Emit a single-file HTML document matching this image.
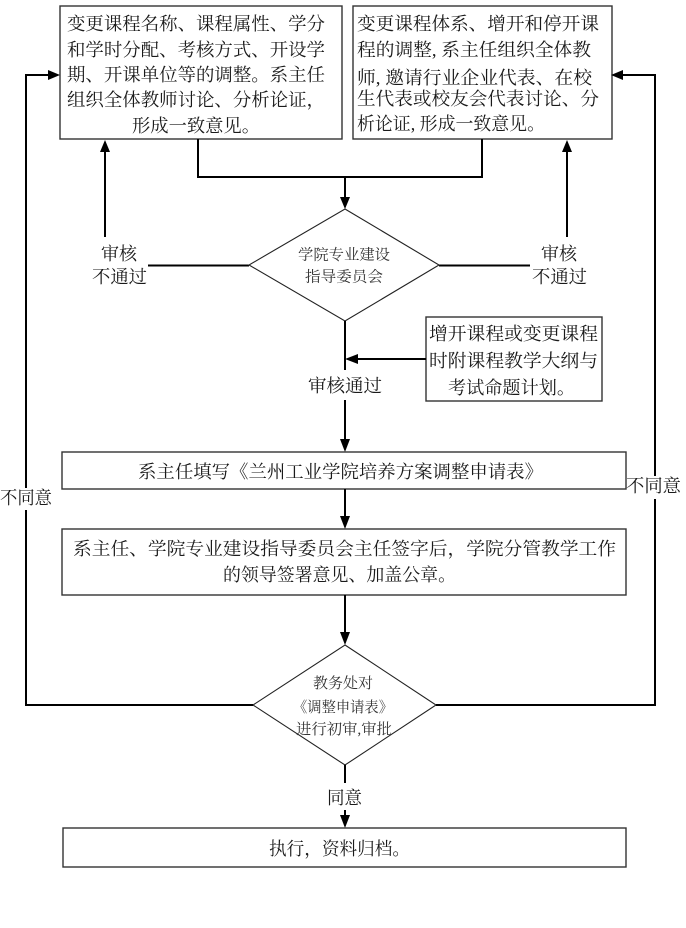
<!DOCTYPE html>
<html>
<head>
<meta charset="utf-8">
<style>
html,body{margin:0;padding:0;background:#fff;}
svg{display:block;}
text{font-family:"Liberation Serif","Noto Serif CJK SC",serif;fill:#1a1a1a;}
.s{font-size:18.4px;}
.d{font-size:15px;fill:#333;}
</style>
</head>
<body>
<svg width="686" height="928" viewBox="0 0 686 928" xmlns="http://www.w3.org/2000/svg">
<rect x="0" y="0" width="686" height="928" fill="#fff"/>

<!-- Top-left box -->
<rect x="60" y="6" width="282" height="133" fill="#fff" stroke="#333" stroke-width="1.4"/>
<text class="s" x="67" y="30" textLength="258" lengthAdjust="spacingAndGlyphs">变更课程名称、课程属性、学分</text>
<text class="s" x="67" y="56" textLength="258" lengthAdjust="spacingAndGlyphs">和学时分配、考核方式、开设学</text>
<text class="s" x="67" y="81" textLength="258" lengthAdjust="spacingAndGlyphs">期、开课单位等的调整。系主任</text>
<text class="s" x="67" y="106" textLength="258" lengthAdjust="spacingAndGlyphs">组织全体教师讨论、分析论证，</text>
<text class="s" x="132" y="132" textLength="128" lengthAdjust="spacingAndGlyphs">形成一致意见。</text>

<!-- Top-right box -->
<rect x="353" y="6" width="259" height="133" fill="#fff" stroke="#333" stroke-width="1.4"/>
<text class="s" x="357" y="30" textLength="242" lengthAdjust="spacingAndGlyphs">变更课程体系、增开和停开课</text>
<text class="s" x="357" y="56" textLength="234" lengthAdjust="spacingAndGlyphs">程的调整, 系主任组织全体教</text>
<text class="s" x="357" y="84" textLength="235" lengthAdjust="spacingAndGlyphs">师, 邀请行业企业代表、在校</text>
<text class="s" x="357" y="105" textLength="242" lengthAdjust="spacingAndGlyphs">生代表或校友会代表讨论、分</text>
<text class="s" x="357" y="130" textLength="188" lengthAdjust="spacingAndGlyphs">析论证, 形成一致意见。</text>

<!-- connectors from top boxes -->
<polyline points="198,139 198,177 482,177 482,139" fill="none" stroke="#000" stroke-width="2"/>
<line x1="345" y1="177" x2="345" y2="198" stroke="#000" stroke-width="2"/>
<polygon points="340,197 350,197 345,209" fill="#000"/>

<!-- up arrows -->
<line x1="105" y1="237" x2="105" y2="150" stroke="#000" stroke-width="2"/>
<polygon points="100,152 110,152 105,140" fill="#000"/>
<line x1="567" y1="237" x2="567" y2="150" stroke="#000" stroke-width="2"/>
<polygon points="562,152 572,152 567,140" fill="#000"/>

<!-- 审核 不通过 labels -->
<text class="s" x="101" y="260" textLength="36" lengthAdjust="spacingAndGlyphs">审核</text>
<text class="s" x="92" y="283" textLength="55" lengthAdjust="spacingAndGlyphs">不通过</text>
<text class="s" x="541" y="260" textLength="36" lengthAdjust="spacingAndGlyphs">审核</text>
<text class="s" x="532" y="283" textLength="55" lengthAdjust="spacingAndGlyphs">不通过</text>

<line x1="148" y1="265.5" x2="249" y2="265.5" stroke="#000" stroke-width="2"/>
<line x1="439" y1="265.5" x2="530" y2="265.5" stroke="#000" stroke-width="2"/>

<!-- Diamond 1 -->
<polygon points="345,209 439,265 345,321 249,265" fill="#fff" stroke="#222" stroke-width="1.1"/>
<text class="d" x="298" y="259.5" textLength="92" lengthAdjust="spacingAndGlyphs">学院专业建设</text>
<text class="d" x="305" y="281.5" textLength="78" lengthAdjust="spacingAndGlyphs">指导委员会</text>

<!-- below diamond 1 -->
<line x1="345" y1="321" x2="345" y2="370" stroke="#000" stroke-width="2"/>
<text class="s" x="308" y="392" textLength="74" lengthAdjust="spacingAndGlyphs">审核通过</text>
<line x1="345" y1="400" x2="345" y2="441" stroke="#000" stroke-width="2"/>
<polygon points="340,439 350,439 345,452" fill="#000"/>

<!-- side box -->
<rect x="426" y="317" width="176" height="84" fill="#fff" stroke="#333" stroke-width="1.4"/>
<text class="s" x="429" y="340" textLength="169" lengthAdjust="spacingAndGlyphs">增开课程或变更课程</text>
<text class="s" x="429" y="367" textLength="169" lengthAdjust="spacingAndGlyphs">时附课程教学大纲与</text>
<text class="s" x="448" y="394" textLength="127" lengthAdjust="spacingAndGlyphs">考试命题计划。</text>
<line x1="426" y1="359" x2="356" y2="359" stroke="#000" stroke-width="2"/>
<polygon points="358,354 358,364 345,359" fill="#000"/>

<!-- box: 系主任填写 -->
<rect x="62" y="452" width="564" height="37" fill="#fff" stroke="#333" stroke-width="1.4"/>
<text class="s" x="138" y="478" textLength="405" lengthAdjust="spacingAndGlyphs">系主任填写《兰州工业学院培养方案调整申请表》</text>
<line x1="345" y1="489" x2="345" y2="518" stroke="#000" stroke-width="2"/>
<polygon points="340,516 350,516 345,529" fill="#000"/>

<!-- box: 系主任、学院 -->
<rect x="62" y="529" width="564" height="66" fill="#fff" stroke="#333" stroke-width="1.4"/>
<text class="s" x="73" y="555" textLength="543" lengthAdjust="spacingAndGlyphs">系主任、学院专业建设指导委员会主任签字后，学院分管教学工作</text>
<text class="s" x="223" y="581" textLength="233" lengthAdjust="spacingAndGlyphs">的领导签署意见、加盖公章。</text>
<line x1="345" y1="595" x2="345" y2="634" stroke="#000" stroke-width="2"/>
<polygon points="340,632 350,632 345,645" fill="#000"/>

<!-- Diamond 2 -->
<polygon points="345,645 436,705 345,765 253,705" fill="#fff" stroke="#222" stroke-width="1.1"/>
<text class="d" x="313" y="688" textLength="60" lengthAdjust="spacingAndGlyphs">教务处对</text>
<text class="d" x="293" y="712" textLength="100" lengthAdjust="spacingAndGlyphs">《调整申请表》</text>
<text class="d" x="296" y="734" textLength="96" lengthAdjust="spacingAndGlyphs">进行初审,审批</text>

<!-- left loop -->
<polyline points="253,705 26,705 26,510" fill="none" stroke="#000" stroke-width="2"/>
<polyline points="26,488 26,75 50,75" fill="none" stroke="#000" stroke-width="2"/>
<polygon points="48,70 48,80 60,75" fill="#000"/>
<text class="s" x="0" y="504" textLength="52" lengthAdjust="spacingAndGlyphs">不同意</text>

<!-- right loop -->
<polyline points="436,705 655,705 655,499" fill="none" stroke="#000" stroke-width="2"/>
<polyline points="655,476 655,75 621,75" fill="none" stroke="#000" stroke-width="2"/>
<polygon points="623,70 623,80 611,75" fill="#000"/>
<text class="s" x="626" y="492" textLength="55" lengthAdjust="spacingAndGlyphs">不同意</text>

<!-- bottom -->
<line x1="345" y1="765" x2="345" y2="783" stroke="#000" stroke-width="2"/>
<text class="s" x="327" y="804" textLength="35" lengthAdjust="spacingAndGlyphs">同意</text>
<line x1="345" y1="810" x2="345" y2="818" stroke="#000" stroke-width="2"/>
<polygon points="340,815 350,815 345,828" fill="#000"/>

<rect x="63" y="828" width="563" height="39" fill="#fff" stroke="#333" stroke-width="1.4"/>
<text class="s" x="269" y="855" textLength="141" lengthAdjust="spacingAndGlyphs">执行，资料归档。</text>
</svg>
</body>
</html>
